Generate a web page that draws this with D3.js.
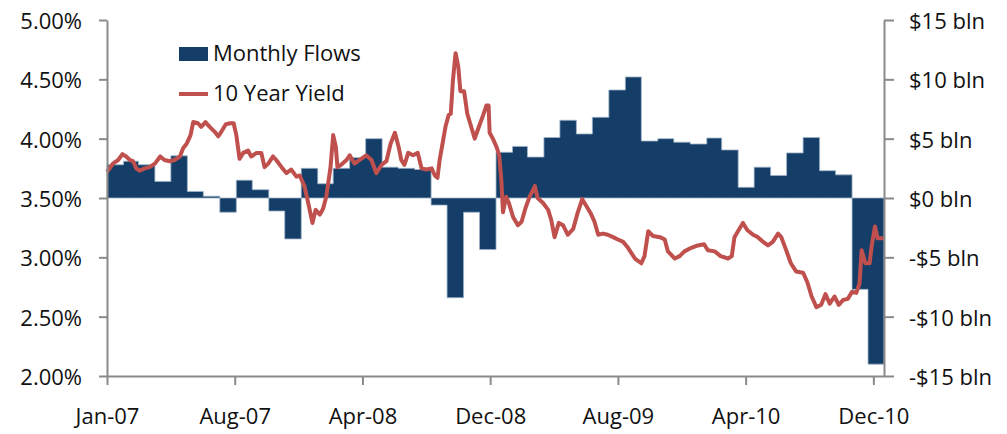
<!DOCTYPE html>
<html>
<head>
<meta charset="utf-8">
<script src="https://cdn.jsdelivr.net/npm/d3@7"></script>
<style>
  body { margin: 0; background: #fff; }
  text { font-family: "Open Sans", sans-serif; fill: #111; }
</style>
</head>
<body>
<div id="chart-container"></div>
<script>
// monthly fund flows, $ bln
const flowMonths = [
  "2007-01","2007-02","2007-03","2007-04","2007-05","2007-06","2007-07","2007-08","2007-09","2007-10","2007-11","2007-12",
  "2008-01","2008-02","2008-03","2008-04","2008-05","2008-06","2008-07","2008-08","2008-09","2008-10","2008-11","2008-12",
  "2009-01","2009-02","2009-03","2009-04","2009-05","2009-06","2009-07","2009-08","2009-09","2009-10","2009-11","2009-12",
  "2010-01","2010-02","2010-03","2010-04","2010-05","2010-06","2010-07","2010-08","2010-09","2010-10","2010-11","2010-12"
];
const flowValues = [
  2.8, 3.1, 2.8, 1.4, 3.55, 0.55, 0.15, -1.2, 1.5, 0.7, -1.1, -3.45,
  2.5, 1.2, 2.5, 3.4, 5.0, 2.6, 2.5, 2.4, -0.6, -8.4, -1.2, -4.35,
  3.85, 4.35, 3.45, 5.1, 6.55, 5.4, 6.8, 9.1, 10.2, 4.8, 5.0, 4.7,
  4.55, 5.05, 4.05, 0.9, 2.6, 1.9, 3.8, 5.1, 2.3, 1.95, -7.7, -14.0
];

// 10 year yield, days since 2007-01-01 and %
const yieldDay = [
  0,5,11,21,29,36,43,49,55,61,
  71,80,90,100,108,118,127,137,143,150,
  157,162,171,177,185,193,202,209,215,223,
  231,238,243,249,256,265,271,281,290,296,
  303,312,318,328,337,346,356,362,371,378,
  386,392,400,406,412,420,425,430,433,440,
  450,456,465,474,487,497,506,516,525,533,
  541,548,553,559,566,575,584,591,600,610,
  616,621,625,629,636,642,646,650,655,660,
  664,671,677,685,691,698,707,713,717,719,
  725,732,737,741,744,750,755,763,772,779,
  786,794,804,809,819,829,835,841,849,857,
  866,876,884,893,901,909,916,923,932,941,
  951,960,970,979,992,1004,1010,1017,1026,1039,
  1048,1054,1067,1076,1085,1098,1110,1122,1129,1142,
  1153,1167,1174,1179,1187,1195,1203,1214,1223,1233,
  1242,1251,1261,1267,1277,1285,1295,1308,1316,1324,
  1333,1342,1350,1358,1367,1375,1383,1392,1400,1408,
  1414,1418,1425,1433,1437,1443,1448,1455,1459
];
const yieldValue = [
  3.72,3.75,3.79,3.82,3.87,3.85,3.82,3.81,3.75,3.73,
  3.75,3.76,3.79,3.85,3.82,3.81,3.82,3.85,3.92,3.96,
  4.03,4.14,4.13,4.10,4.14,4.10,4.06,4.02,4.06,4.12,
  4.13,4.13,4.03,3.83,3.88,3.90,3.85,3.88,3.88,3.76,
  3.79,3.85,3.82,3.76,3.71,3.74,3.68,3.69,3.60,3.46,
  3.29,3.40,3.36,3.41,3.51,3.76,4.03,3.93,3.76,3.78,
  3.82,3.86,3.79,3.82,3.86,3.82,3.71,3.78,3.81,3.96,
  4.05,3.93,3.82,3.78,3.88,3.86,3.88,3.75,3.74,3.75,
  3.69,3.67,3.82,3.92,4.10,4.20,4.21,4.49,4.72,4.61,
  4.40,4.40,4.21,4.09,4.00,4.09,4.20,4.28,4.28,4.05,
  4.00,3.93,3.86,3.65,3.38,3.51,3.46,3.34,3.27,3.30,
  3.41,3.51,3.60,3.50,3.46,3.40,3.31,3.17,3.29,3.27,
  3.19,3.24,3.37,3.49,3.43,3.37,3.30,3.19,3.20,3.19,
  3.17,3.15,3.13,3.08,2.99,2.95,3.01,3.22,3.18,3.17,
  3.15,3.05,2.99,3.01,3.05,3.08,3.10,3.11,3.06,3.05,
  3.01,2.99,3.01,3.17,3.23,3.29,3.23,3.19,3.17,3.13,
  3.10,3.13,3.20,3.17,3.05,2.95,2.88,2.87,2.79,2.67,
  2.58,2.60,2.69,2.61,2.67,2.60,2.64,2.65,2.71,2.70,
  2.78,3.06,2.95,2.95,3.10,3.26,3.16,3.16,3.16
];

// axis ticks
const xTickDates = ["2007-01-01","2007-08-29","2008-04-25","2008-12-21","2009-08-18","2010-04-15","2010-12-11"];
const leftTicks = [2.0, 2.5, 3.0, 3.5, 4.0, 4.5, 5.0];
const rightTicks = [-15, -10, -5, 0, 5, 10, 15];
const legendLabels = ["Monthly Flows", "10 Year Yield"];

const width = 1007;
const height = 434;
const plotLeft = 107, plotRight = 884, plotTop = 20, plotBottom = 376;

const barColor = "#143d68";
const lineColor = "#c0504d";
const axisColor = "#8a8a8a";

const parseMonth = d3.utcParse("%Y-%m");
const parseDay = d3.utcParse("%Y-%m-%d");
const startDate = parseDay("2007-01-01");
const endDate = parseDay("2010-12-31");

const svg = d3.select("#chart-container")
    .append("svg")
    .attr("width", width)
    .attr("height", height);

const x = d3.scaleUtc().domain([startDate, endDate]).range([plotLeft, plotRight]);
const yL = d3.scaleLinear().domain([2, 5]).range([plotBottom, plotTop]);
const yR = d3.scaleLinear().domain([-15, 15]).range([plotBottom, plotTop]);

// flows as a stepped area, one step per month
const flows = flowMonths.map((m, i) => ({date: parseMonth(m), value: flowValues[i]}));
flows.push({date: endDate, value: flowValues[flowValues.length - 1]});

const area = d3.area()
    .curve(d3.curveStepAfter)
    .x(d => x(d.date))
    .y0(yR(0))
    .y1(d => yR(d.value));

svg.append("path")
    .datum(flows)
    .attr("d", area)
    .attr("fill", barColor)
    .attr("stroke", "#9db2c8")
    .attr("stroke-width", 0.8);

// yield line
const yields = yieldDay.map((d, i) => ({date: d3.utcDay.offset(startDate, d), value: yieldValue[i]}));

const line = d3.line()
    .x(d => x(d.date))
    .y(d => yL(d.value));

svg.append("path")
    .datum(yields)
    .attr("d", line)
    .attr("fill", "none")
    .attr("stroke", lineColor)
    .attr("stroke-width", 4)
    .attr("stroke-linejoin", "round");

// axes
const fontSize = 22;

const leftAxis = d3.axisLeft(yL)
    .tickValues(leftTicks)
    .tickFormat(d => d3.format(".2f")(d) + "%")
    .tickSize(8)
    .tickSizeOuter(0)
    .tickPadding(17);

const rightAxis = d3.axisRight(yR)
    .tickValues(rightTicks)
    .tickFormat(d => (d < 0 ? "-$" : "$") + Math.abs(d) + " bln")
    .tickSize(10)
    .tickSizeOuter(0)
    .tickPadding(15);

const bottomAxis = d3.axisBottom(x)
    .tickValues(xTickDates.map(parseDay))
    .tickFormat(d3.utcFormat("%b-%y"))
    .tickSize(9)
    .tickSizeOuter(0)
    .tickPadding(23);

function styleAxis(g) {
    g.selectAll(".domain, .tick line")
        .attr("stroke", axisColor)
        .attr("stroke-width", 2);
    g.selectAll("text")
        .attr("font-family", "'Open Sans', sans-serif")
        .attr("font-size", fontSize)
        .attr("fill", "#111");
}

svg.append("g")
    .attr("transform", `translate(0,${plotBottom})`)
    .call(bottomAxis)
    .call(styleAxis);

svg.append("g")
    .attr("transform", `translate(${plotLeft},0)`)
    .call(leftAxis)
    .call(styleAxis)
    .selectAll("text").attr("dy", "0.38em");

svg.append("g")
    .attr("transform", `translate(${plotRight},0)`)
    .call(rightAxis)
    .call(styleAxis)
    .selectAll("text").attr("dy", "0.38em");

// legend
const legend = svg.append("g").attr("transform", "translate(179,0)");

legend.append("rect")
    .attr("x", 0)
    .attr("y", 47)
    .attr("width", 29)
    .attr("height", 14)
    .attr("fill", barColor);

legend.append("line")
    .attr("x1", 0)
    .attr("x2", 29)
    .attr("y1", 94)
    .attr("y2", 94)
    .attr("stroke", lineColor)
    .attr("stroke-width", 4);

legend.selectAll("text.lbl")
    .data(legendLabels)
    .enter().append("text")
    .attr("class", "lbl")
    .attr("x", 34)
    .attr("y", (d, i) => 61 + i * 40)
    .attr("font-size", fontSize)
    .text(d => d);
</script>
</body>
</html>
